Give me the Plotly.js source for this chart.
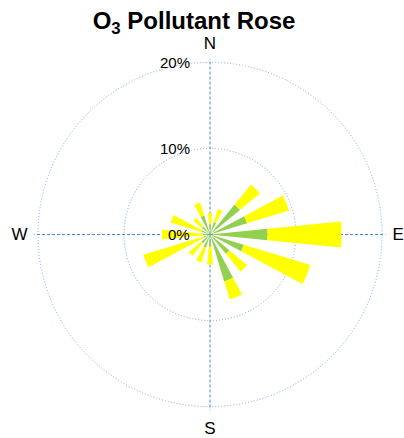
<!DOCTYPE html>
<html>
<head>
<meta charset="utf-8">
<script src="https://cdn.plot.ly/plotly-3.0.1.min.js"></script>
<style>html,body{margin:0;padding:0;background:#fff;}#chart{width:404px;height:438px;}</style>
</head>
<body>
<div id="chart"></div>
<script>
// Wind directions (degrees, clockwise from north)
const directions = [0, 22.5, 45, 67.5, 90, 112.5, 135, 157.5, 180, 202.5, 225, 247.5, 270, 292.5, 315, 337.5];
// Inner (green) band, % of time
const lowBand = [1.2, 1.5, 4.5, 4.5, 6.7, 4.1, 2.9, 5.7, 1.4, 1.6, 1.3, 0.8, 0.8, 1.0, 1.2, 2.3];
// Total length of each wedge, % of time
const totalPct = [2.5, 3.1, 7.5, 9.6, 15.3, 12.2, 5.6, 7.9, 3.5, 3.4, 3.2, 8.1, 5.6, 4.8, 2.5, 3.9];
// Outer (yellow) band = total - inner
const highBand = totalPct.map((t, i) => +(t - lowBand[i]).toFixed(2));
const compassVals = [0, 90, 180, 270];
const compassText = ['N', 'E', 'S', 'W'];
const radialTicks = [0, 10, 20];
const radialText = ['0%', '10%', '20%'];
const rMax = 20.4;

const gridBlue = '#7aa9e6';
const traces = [
  {type: 'barpolar', r: lowBand, theta: directions, width: 11.25,
   marker: {color: '#92d050', line: {width: 0}}, hoverinfo: 'skip'},
  {type: 'barpolar', r: highBand, theta: directions, width: 11.25,
   marker: {color: '#ffff00', line: {width: 0}}, hoverinfo: 'skip'}
];

// geometry of the plot area (20% circle radius R20 around cx, cy)
const cx = 210, cy = 234.5, R20 = 172.5;
const Rp = R20 * rMax / 20;
const L = cx - Rp, T = cy - Rp, W = 2 * Rp, H = 2 * Rp;
const annotations = radialTicks.map((v, i) => {
  const py = cy - R20 * v / 20;
  return {xref: 'paper', yref: 'paper', x: (cx - 18 - L) / W, y: (T + H - py) / H,
          xanchor: 'right', yanchor: 'middle', showarrow: false, text: radialText[i],
          font: {family: 'Liberation Sans, Arial, sans-serif', size: 15, color: '#000'}};
});

const layout = {
  width: 404, height: 438,
  margin: {l: L, r: 404 - L - W, t: T, b: 438 - T - H},
  paper_bgcolor: '#fff',
  showlegend: false,
  title: {text: '<b>O<sub>3</sub> Pollutant Rose</b>', x: 194 / 404, xanchor: 'center',
          y: 1 - 21 / 438, yref: 'container', yanchor: 'middle',
          font: {family: 'Liberation Sans, Arial, sans-serif', size: 24, color: '#000'}},
  polar: {
    barmode: 'stack',
    bgcolor: 'rgba(0,0,0,0)',
    domain: {x: [0, 1], y: [0, 1]},
    radialaxis: {range: [0, rMax], tickvals: [10, 20], showticklabels: false, ticks: '',
                 showline: false, gridcolor: gridBlue, gridwidth: 1, griddash: '1px,2px'},
    angularaxis: {direction: 'clockwise', rotation: 90, tickvals: compassVals, ticktext: compassText,
                  ticks: 'outside', ticklen: 3, tickcolor: 'rgba(0,0,0,0)',
                  showline: false, gridcolor: '#4a86d8', gridwidth: 1, griddash: '3px,2px',
                  tickfont: {family: 'Liberation Sans, Arial, sans-serif', size: 17, color: '#000'}}
  },
  annotations: annotations
};

Plotly.newPlot('chart', traces, layout, {displayModeBar: false, staticPlot: true});
</script>
</body>
</html>
